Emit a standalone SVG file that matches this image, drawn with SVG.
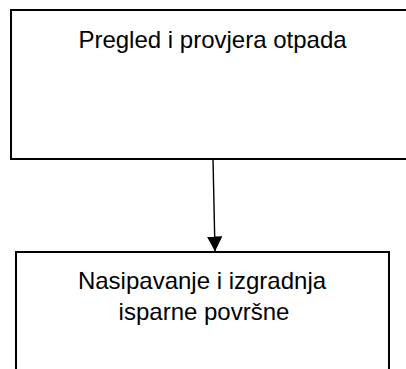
<svg xmlns="http://www.w3.org/2000/svg" width="406" height="369" viewBox="0 0 406 369">
  <defs>
    <style>
      .box { fill: #ffffff; stroke: #000000; stroke-width: 2; }
      .label { font-family: "Liberation Sans", Arial, sans-serif; font-size: 24px; fill: #000000; text-anchor: middle; }
      .conn { stroke: #000000; stroke-width: 1.4; fill: none; }
    </style>
    <marker id="arrow" markerUnits="userSpaceOnUse" markerWidth="16" markerHeight="16" viewBox="0 0 16 16" refX="15" refY="8" orient="auto">
      <path d="M0,0.3 L15,8 L0,15.7 Z" fill="#000000"/>
    </marker>
  </defs>
  <rect width="406" height="369" fill="#ffffff"/>
  <g id="node-pregled">
    <rect class="box" x="11" y="10" width="405" height="149"/>
    <text class="label" x="212.5" y="47.5">Pregled i provjera otpada</text>
  </g>
  <g id="node-nasipavanje">
    <rect class="box" x="16" y="252" width="373" height="130"/>
    <text class="label" x="202" y="288.5">Nasipavanje i izgradnja</text>
    <text class="label" x="204" y="319.5">isparne površne</text>
  </g>
  <g id="connectors">
    <line class="conn" x1="213" y1="159" x2="215" y2="251.5" marker-end="url(#arrow)"/>
  </g>
</svg>
